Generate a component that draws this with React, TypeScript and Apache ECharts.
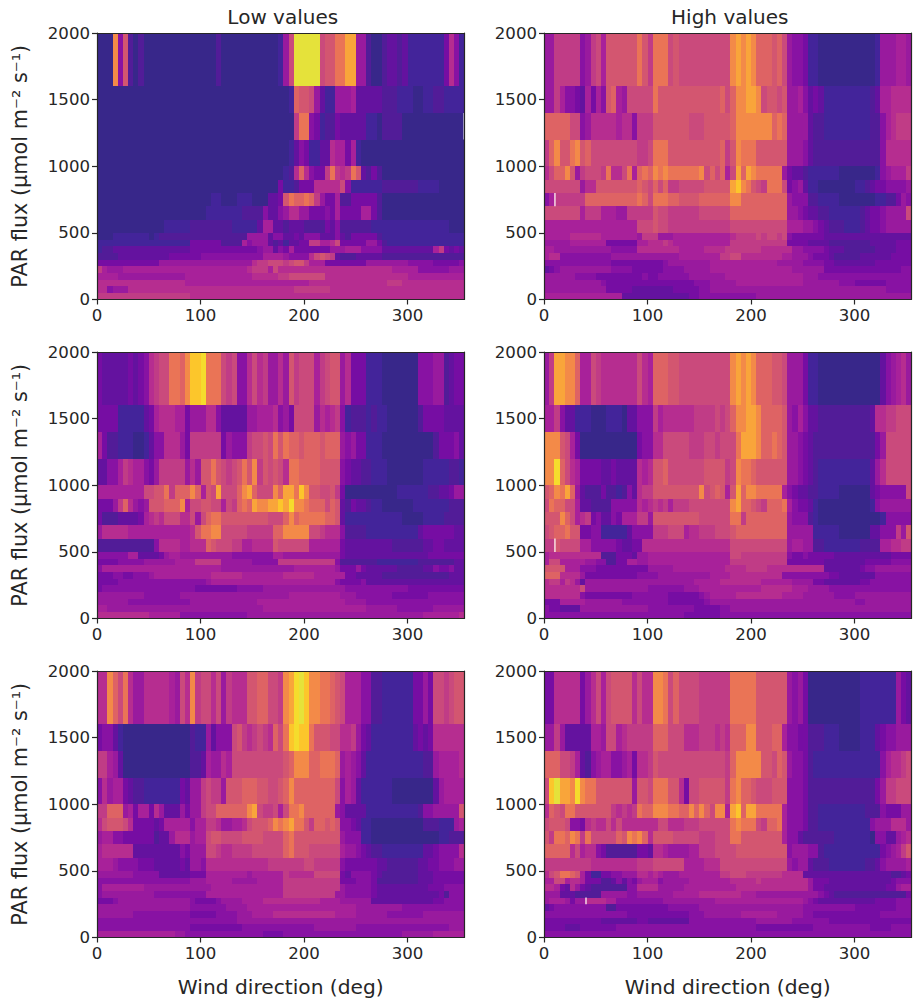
import React, { useEffect, useRef } from 'react';
import * as echarts from 'echarts';

// Bin edges of the PAR flux axis, top row first. Columns are 5 degrees wide.
const PAR_EDGES = [2000, 1600, 1400, 1200, 1000, 900, 800, 700, 600, 500, 450, 400, 350, 300, 250, 200, 150, 100, 50, 0];
const DIR_STEP = 5;
const DIR_MAX = 355;
const DIR_TICKS = [0, 100, 200, 300];
const PAR_TICKS = [0, 500, 1000, 1500, 2000];

// Colour levels 0-i (base 36 digits), low to high
const LEVEL_COLORS = [
  '#38278a', '#43249a', '#521c98', '#64129f', '#760da3', '#8812a3', '#991a9e',
  '#a8219a', '#b62d90', '#c03c86', '#ca4a7c', '#d35670', '#de6364', '#ea7456',
  '#f38a48', '#f9a53a', '#fcc62b', '#f5dc2c', '#e5e23a',
];

// Each row is one PAR bin (top to bottom), each character one wind direction bin
const lowTop = [
  '000e5b2020 0000000000 0002000000 0000016aii iiiabbddff 6620023323 11111114851',
  '0000000000 0000000000 0000000000 00000001cb ba63116667 3333322211 10011221111',
  '0000000000 0000000000 0000000000 000000009d d541224333 3311022220 00000000000',
  '0000000000 0000000000 0000000000 0000000135 4113387747 1000000000 00000000000',
  '0000000000 0000000000 0000000000 000000128c 85449d989d b324200000 00000000000',
  '0000000000 0000000000 0000000000 0000041124 4488888a51 1111122222 22111100000',
  '0000000000 0000000000 0011000111 000334bdcc dc96447224 4444200000 00000000000',
  '0000000000 0000000000 0111111122 2253356886 6444547444 4774200000 00000000000',
  '0000000000 0001111122 2222221111 1377332333 2222435222 2221111111 11111111000',
  '0001111111 0122222222 2222222226 6663553343 5553335324 4444211111 11111111111',
  '1111111111 1111111144 4444222275 6663231334 499778a444 4466421111 11111111111',
  '1223333333 3333333344 4444444444 4566354744 4444466677 7555533333 33333794343',
  '2222333333 3333444444 5555555555 5577776555 58aba93222 3333322222 22222222222',
  '4444444444 4466666666 6666666666 899aaa9abb 9777444444 4466666666 55555444445',
  '9766677777 7777777777 7777777778 9997a88888 8888888888 8888888777 77555555666',
  '7777666666 6666666777 7777777777 8888899aaa aaaa888888 8888888888 77777777777',
  '8888888888 8888888777 7777777777 7777777777 7888888888 8888889998 88888888888',
  '8856668888 8888888888 8888888888 8888888899 9999988888 8888888888 88888888888',
  '9999999999 9999999988 8888888888 8888888888 8888888888 8888888888 88888888888',
];

const highTop = [
  '6699999569 a7bbbbbbdb 9dddabaaaa aaaaaaefef ecccbca655 4110000000 00001666776',
  '6697554374 75bc76aaaa adbbbbbbbb bbbbcaceef feabbab667 5343111111 11123778888',
  'cccccaa568 8888788599 9bbbbbbbaa abbbbbceee eeeecdc666 6322111111 11122578999',
  '9cebbdebca aaaaaaaa99 adddbbbbbb bbbbc9bedd dbbbbbb666 5322222222 22222588888',
  '8acceb69aa a9d88ad7cd cededddddd eacac7afcf eddddd6433 2111111000 00001567779',
  'aaaaaaa688 bbbbbbbbcb acac99aaaa abbbbbfged ba9ddda456 3110000000 11234455556',
  '57999999cc ccccccccdc adddccbbbb cccccceecc ccccccc655 5221111000 00001122465',
  'aaaaaaa799 9777669999 9baa999999 aaaaaacccc ccccccc665 4332211111 1234456666a',
  '7777777777 77777777aa abaa999999 999999aaaa aaaaaaa777 6654322211 12344566666',
  '7777788888 8777777769 9966677777 7777778999 9a9aa9a544 4444333333 33333333333',
  '6666677777 7744444477 8889877777 7777779999 9999999444 4333322222 22233333444',
  '7766666666 6665555588 8888887777 7888899999 9988888866 5555433322 22223333444',
  '7885555555 5556666666 6666667777 777799aa88 8888887766 6544432222 23333334444',
  '5555555555 5554444444 4445666666 6677777777 7777766666 5555443333 33334444444',
  '3456666666 6665555444 4445555666 6677777777 7777777766 6666444444 44444444455',
  '6666665555 4444444445 4455555566 6666677777 7777777777 6665555555 55555555555',
  '6666666666 6544444444 4444444445 5566666777 7777777777 6666666555 44444455555',
  '6666666666 6644444333 3333344444 5566666666 6666666666 6666666666 66666655555',
  '7777777777 7777733333 3333333344 5555555555 5666666666 6666666666 66666666666',
];

const lowMid = [
  '4333334345 89aaddcegg hddda9a558 a896686b9a aa79abb684 4411100000 00555662344',
  '4444111113 4788877466 6885333336 67778564aa aa68789512 2212110000 00244443333',
  '7422111001 3558886499 9999465559 aabadbdccb cccbccc656 4411100000 00000244453',
  '3355798775 4699999686 bbdba9abdb e9baba8ddc cccbbbb543 3221110000 00011111221',
  '777777777a abbd9cccec 7bafaaacef caaaecffdg ebbaab9400 0000000011 11112233466',
  '44469c8656 bbbccce7aa bbaa7a9cdc feeffgfhee dcccacb324 3321100000 01111111222',
  '4222333347 898aaa88a6 acddbbbbbb bbbaaacecd ddddccb311 1111111110 00011112222',
  '6888887777 777777778b ddeeaaaaa9 9999cceeee eaa9888522 2211111111 11344444433',
  '2222222222 2588887788 8cbaaa9977 8888baaaaa a777777433 3333333222 22233443333',
  '5555557733 3346776666 6666665555 5555776666 6666666433 3333333333 33334444444',
  '4444555556 6666677779 9999666666 5555599999 9999995222 2222111111 11222222233',
  '5777777777 7777777777 7777666666 6666666677 7777776444 6433333322 22233544533',
  '4445544555 6777777777 7788888877 7777778888 8877777744 3333322222 22222222333',
  '4444555555 5555555555 5677777777 7777777777 7777775444 4533333333 33333333333',
  '4555555555 5555555554 4444444555 5566666666 6666666655 5555555555 44444444444',
  '6666666665 5555556666 6666666666 6666666777 7777777666 5555555444 44445555555',
  '6666665555 5555555566 6666666666 6777777777 7777777766 6655555555 55555555555',
  '7766666666 6666666666 6666666666 6677777777 7777777777 7766666655 55555666666',
  '8888888888 7777775555 5555555556 6666666666 6666666666 6666666666 66677777778',
];

const highMid = [
  '69ffeec77a 98888888a8 7cccbbaaaa aaaaaaefef ecccbba666 4110000000 00000356786',
  '7795331110 0011103355 5978888889 999a9aceef feccccb657 5332222222 22238899aaa',
  'eeeba74000 0000000045 588aaaaa99 9aa9aaadff feccdcb665 4322222222 222246aaaaa',
  'eehca87444 4334333387 8bbcaaaaaa abbbb9aedd cbbbbbb665 4321111111 111368aaaaa',
  'bcedfc6322 2422125389 9bbbbbbbbb eabcb7bfce eddddd7543 3221111000 0003455555a',
  'adccaa7332 2225555587 89897999aa aaaaaaefcc ba9cccd754 4310000000 00015666666',
  'bbbeca7894 5335477799 6bbbbbbbbb aaaaaadd9c ccccccc655 5210000000 00000155555',
  'abccdbb445 5111113555 5999aaa788 999aaabccc ccccccc666 6611111000 0003355596b',
  '99baaaa775 5555433448 8888888888 888888aaaa aaaaaaa677 6622111111 12222778899',
  '7888888888 8222444366 7777777777 777777aa99 9999999544 5444443333 33333334444',
  '7aa7777766 5522447766 7777777777 7777779999 9999999444 4444333333 33444445555',
  'bbbb777555 4444444444 6666677777 7777788889 9998888888 8888333333 34556666666',
  'ccc8888644 4444444455 5566666666 6677778888 8888885555 5555544333 33335555555',
  '8997986366 6666666666 6666666667 7777888888 8877777766 6644333333 34455555555',
  '8888888a66 6666666666 5555555666 7777777777 7788888877 7666655555 55555555555',
  '8888888544 4444444555 5555444444 5677777888 8888887777 6666665555 66666666666',
  '4447777766 6666655555 5555444444 4566666666 6666666666 6666666666 55666666666',
  '5443333666 6666666666 5555555554 4444556666 6666666666 6666666666 66666666666',
  '5555555555 5555555555 5555555444 4444555555 5555555555 5555555555 55555555555',
];

const lowBottom = [
  '88ecad8668 888876a8e9 aa8a69888b bccaa9efhi geeddcba77 7552211111 14464aa9abb',
  '4553100000 0000000021 163555ab98 9a98cadghg gdbbbaa889 6431111111 13434888888',
  '9976300000 0000000022 376687aaaa aaaaaabcee eccdddc676 5311111111 11122677778',
  '5867743221 1111114366 9a996bbbcc cbbaabcecc cccccca576 3111111000 00000367777',
  '99ccc67477 4863336466 9aacccccce fa99a7adde cccccc6533 3311111111 1125566666b',
  '8abbba8444 4347777757 799866778a bbbcedefdd b9ccbcb554 3110000000 00022211167',
  '6775544444 4233688867 7abbaaaabb bbaaaacdbb bbbbbbb655 5110000000 00000011222',
  '7888888333 3333335466 6aa9889999 aaaaaacdbb baaaaaa766 5432211111 11133455558',
  '7776555544 4333334366 5888888888 8889999999 aa99999544 4444332222 22334455566',
  '6666666555 5533333344 4777777776 7777779888 88aaaaa435 5554322222 22333444444',
  '5555555555 5555555566 6777776666 6777779999 9999999444 5554222222 22333444444',
  '5777777776 6666666666 6677777777 7777779999 9999999655 5554333333 33334445555',
  '5666666666 6555555555 5777777777 7777779999 9999996655 5554333333 33333342555',
  '4445666666 6666666654 4445666677 7788888888 8887777666 6663333333 33333445555',
  '6666666666 6666666655 5555566667 7777777777 7777777777 6666666665 55555555555',
  '6666666555 5555555544 4445555666 7777888888 8888887777 6666665555 55566666666',
  '5555555555 5555555555 5555555666 6666666666 6666666666 6666666666 66666666666',
  '5555555555 5555555544 4444444455 5555555555 5566666666 5555555555 55555555666',
  '7777777777 7777766555 5555555555 5544445555 5555555555 5555555556 66666777777',
];

const highBottom = [
  '4488888468 a7abbbb8a8 8eedacaaaa 999999dddd dbbbbbb656 4000000000 01111111643',
  '6696333337 76aa789999 9cccaaa888 999898ccce ebbbcc7554 4222111000 01113455666',
  'cccaa97325 6775567488 9baaaaaaaa aaaaa9ceee eebbacb655 4211111111 1111157889a',
  'agiffehedd bbbbbbb6bb adddbb84aa bbbbb9decc baaabbb555 4222222222 22224699aaa',
  '8cbaddbbbb bbb98989dc ceeeddccec ecaee7fgcf fddddd7555 4221111111 11222544466',
  'abbba55489 88a8a88888 88aa888999 aaaaaadedd da9ccd7555 4221111111 11156668886',
  'b9ddced9da aaaacbedec 8bbbbaaaaa 999aaaddbb bbbbbb7553 2222221111 11105533678',
  'ccccc8a788 5422222244 3887666677 999aaaabbb bbbbbbb566 6552111111 1111145679b',
  '9999999998 8888888899 9aaaaaa777 7888aaaaaa aaaaaaa656 6322211111 11223566667',
  '8abddcb741 1445566688 7876667777 777799aaa9 9999998888 3333333333 33333332234',
  '77aa788744 4223535467 7756666677 7777778888 8988888888 8644433333 33333334555',
  '8874386432 2222225588 8866666777 7777777888 8888888888 8644333333 33333344677',
  '6663332222 2666665566 6666677777 8888888877 7666666666 6665432222 22222222224',
  '6777646688 8877555555 5556666666 6667777777 7777777777 6543333333 33334444555',
  '3455555555 5522444444 4444555555 6666666666 6666666666 5555555555 44444444555',
  '5555555555 5555554444 4444444455 5666666677 7777766666 5544444444 44444555555',
  '4444444444 4333333344 3333333355 5555555555 5666666655 5555544444 44444444444',
  '4444333444 4444555555 5555555555 5555555555 5444444444 4455555555 55544445555',
  '5555555555 5555555555 5555555555 5555555555 5555555555 5555555555 55555555555',
];

const PANELS = [lowTop, highTop, lowMid, highMid, lowBottom, highBottom];
const COLUMN_TITLES = ['Low values', 'High values'];

// Thin white gaps in the mesh: panel, direction, row index
const GAPS = [
  [0, 354, 2],
  [1, 10, 6],
  [3, 10, 8],
  [5, 40, 13],
];

const GRID_LEFT = [97, 544];
const GRID_TOP = [33, 352, 671];
const GRID_W = 367.5;
const GRID_H = 266.5;
const INK = '#262626';
const FONT = '"DejaVu Sans", sans-serif';

function buildCells(rows: string[]) {
  const cells: number[][] = [];
  rows.forEach((row, r) => {
    const chars = row.replace(/ /g, '');
    for (let c = 0; c < chars.length; c++) {
      cells.push([c * DIR_STEP, (c + 1) * DIR_STEP, PAR_EDGES[r + 1], PAR_EDGES[r], parseInt(chars[c], 36)]);
    }
  });
  return cells;
}

function renderCell(_params: any, api: any) {
  const a = api.coord([api.value(0), api.value(3)]);
  const b = api.coord([api.value(1), api.value(2)]);
  const x = Math.round(a[0]);
  const y = Math.round(a[1]);
  return {
    type: 'rect',
    shape: { x, y, width: Math.round(b[0]) - x, height: Math.round(b[1]) - y },
    style: { fill: LEVEL_COLORS[api.value(4)] },
  };
}

function renderGap(_params: any, api: any) {
  const a = api.coord([api.value(0), api.value(2)]);
  const b = api.coord([api.value(0), api.value(1)]);
  return {
    type: 'rect',
    shape: { x: a[0], y: a[1], width: 1.2, height: b[1] - a[1] },
    style: { fill: '#ffffff' },
  };
}

function buildOption(): echarts.EChartsOption {
  const grid: any[] = [];
  const xAxis: any[] = [];
  const yAxis: any[] = [];
  const series: any[] = [];
  const line = { show: true, onZero: false, lineStyle: { color: INK, width: 1.2 } };
  const plainNumber = (v: number) => String(v);

  PANELS.forEach((rows, i) => {
    const col = i % 2;
    const row = Math.floor(i / 2);
    grid.push({ left: GRID_LEFT[col], top: GRID_TOP[row], width: GRID_W, height: GRID_H });
    const axisBase = { gridIndex: i, type: 'value', splitLine: { show: false }, z: 10, axisLine: line };

    xAxis.push({
      ...axisBase,
      position: 'bottom',
      min: 0,
      max: DIR_MAX,
      name: row === 2 ? 'Wind direction (deg)' : '',
      nameLocation: 'middle',
      nameGap: 39,
      nameTextStyle: { fontFamily: FONT, fontSize: 20.2, color: INK },
      axisTick: { length: 5, lineStyle: { color: INK, width: 1.2 }, customValues: DIR_TICKS },
      axisLabel: { customValues: DIR_TICKS, formatter: plainNumber, margin: 7, fontFamily: FONT, fontSize: 16.6, color: INK },
    });
    xAxis.push({ ...axisBase, position: 'top', min: 0, max: DIR_MAX, axisTick: { show: false }, axisLabel: { show: false } });

    yAxis.push({
      ...axisBase,
      position: 'left',
      min: 0,
      max: 2000,
      interval: 500,
      name: col === 0 ? 'PAR flux (μmol m⁻² s⁻¹)' : '',
      nameLocation: 'middle',
      nameRotate: 90,
      nameGap: 67,
      nameTextStyle: { fontFamily: FONT, fontSize: 20.8, color: INK },
      axisTick: { length: 5, lineStyle: { color: INK, width: 1.2 }, customValues: PAR_TICKS },
      axisLabel: { customValues: PAR_TICKS, formatter: plainNumber, margin: 7, fontFamily: FONT, fontSize: 16.6, color: INK },
    });
    yAxis.push({ ...axisBase, position: 'right', min: 0, max: 2000, axisTick: { show: false }, axisLabel: { show: false } });

    series.push({
      type: 'custom',
      coordinateSystem: 'cartesian2d',
      xAxisIndex: i * 2,
      yAxisIndex: i * 2,
      renderItem: renderCell,
      encode: { x: [0, 1], y: [2, 3] },
      data: buildCells(rows),
      progressive: 0,
      silent: true,
    });

    const gaps = GAPS.filter((g) => g[0] === i).map((g) => [g[1], PAR_EDGES[g[2] + 1], PAR_EDGES[g[2]]]);
    series.push({
      type: 'custom',
      coordinateSystem: 'cartesian2d',
      xAxisIndex: i * 2,
      yAxisIndex: i * 2,
      renderItem: renderGap,
      encode: { x: 0, y: [1, 2] },
      data: gaps,
      z: 3,
      silent: true,
    });
  });

  return {
    animation: false,
    backgroundColor: '#ffffff',
    title: COLUMN_TITLES.map((text, col) => ({
      text,
      left: GRID_LEFT[col] + GRID_W / 2 - 3,
      top: 2,
      textAlign: 'center',
      textStyle: { fontFamily: FONT, fontSize: 20, fontWeight: 'normal', color: INK },
    })),
    grid,
    xAxis,
    yAxis,
    series,
  };
}

const App: React.FC = () => {
  const chartRef = useRef<HTMLDivElement>(null);

  useEffect(() => {
    if (!chartRef.current) return;
    const chart = echarts.init(chartRef.current, undefined, { renderer: 'svg' });
    chart.setOption(buildOption());
    return () => chart.dispose();
  }, []);

  return <div ref={chartRef} style={{ position: 'absolute', left: 0, top: 0, width: 917, height: 999 }} />;
};

export default App;
